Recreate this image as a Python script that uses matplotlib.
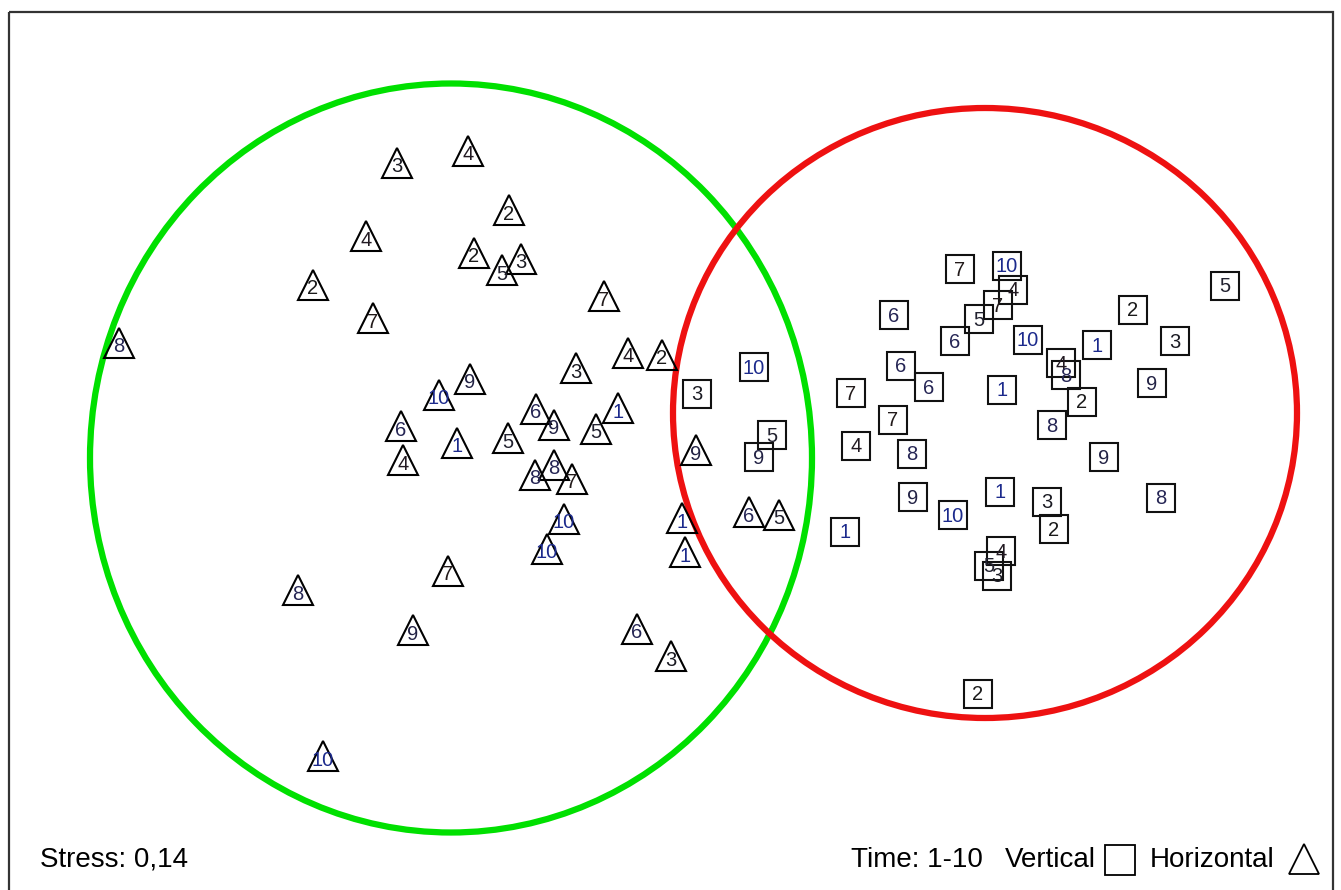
import matplotlib
matplotlib.use("Agg")
import matplotlib.pyplot as plt
from matplotlib.patches import Ellipse, Rectangle

plt.rcParams['font.family'] = ['Liberation Sans', 'DejaVu Sans']

# NMDS scores (pixel space of the original plot)
horiz_x = [119, 397, 468, 509, 366, 474, 502, 521, 313, 373,
           604, 628, 662, 576, 470, 439, 401, 403, 457, 508,
           536, 554, 596, 618, 535, 554, 572, 564, 547, 696,
           682, 685, 749, 779, 448, 298, 413, 637, 671, 323]
horiz_y = [343, 163, 151, 210, 236, 253, 270, 259, 285, 318,
           296, 353, 355, 368, 379, 395, 426, 460, 443, 438,
           409, 425, 429, 408, 475, 465, 479, 519, 549, 450,
           518, 552, 512, 515, 571, 590, 630, 629, 656, 756]
horiz_t = [8, 3, 4, 2, 4, 2, 5, 3, 2, 7,
           7, 4, 2, 3, 9, 10, 6, 4, 1, 5,
           6, 9, 5, 1, 8, 8, 7, 10, 10, 9,
           1, 1, 6, 5, 7, 8, 9, 6, 3, 10]

vert_x = [697, 754, 772, 759, 851, 856, 845, 894, 901, 929,
          893, 912, 913, 953, 960, 1007, 1013, 998, 979, 955,
          1028, 1002, 1061, 1066, 1082, 1052, 1097, 1133, 1175, 1152,
          1104, 1225, 1161, 1000, 1047, 1054, 1001, 989, 997, 978]
vert_y = [394, 367, 435, 457, 393, 446, 532, 315, 366, 387,
          420, 454, 497, 515, 269, 266, 290, 305, 319, 341,
          340, 390, 363, 375, 402, 425, 345, 310, 341, 383,
          457, 286, 498, 492, 502, 529, 551, 566, 576, 694]
vert_t = [3, 10, 5, 9, 7, 4, 1, 6, 6, 6,
          7, 8, 9, 10, 7, 10, 4, 7, 5, 6,
          10, 1, 4, 8, 2, 8, 1, 2, 3, 9,
          9, 5, 8, 1, 3, 2, 4, 5, 3, 2]

# label colour per time step
time_col = {1: '#1c2a8c', 2: '#1a1a1a', 3: '#1a1a22', 4: '#221a22',
            5: '#222230', 6: '#262655', 7: '#221a1a', 8: '#262655',
            9: '#222244', 10: '#1c2a8c'}

fig = plt.figure(figsize=(13.41, 8.90), dpi=100)
ax = fig.add_axes([0, 0, 1, 1])
ax.set_xlim(0, 1341)
ax.set_ylim(890, 0)
ax.axis('off')

ax.plot(horiz_x, horiz_y, linestyle='none', marker='^', ms=21.5,
        mfc='none', mec='black', mew=1.5)
ax.plot(vert_x, vert_y, linestyle='none', marker='s', ms=20,
        mfc='none', mec='#111111', mew=1.5)

for x, y, t in zip(horiz_x, horiz_y, horiz_t):
    ax.text(x, y + 4, str(t), ha='center', va='center', fontsize=14.5,
            color=time_col[t])
for x, y, t in zip(vert_x, vert_y, vert_t):
    ax.text(x, y + 1, str(t), ha='center', va='center', fontsize=14.5,
            color=time_col[t])

# group ellipses
ax.add_patch(Ellipse((451, 458), 722, 749, fill=False, ec='#00e000', lw=4.5))
ax.add_patch(Ellipse((985, 413), 624, 610, fill=False, ec='#ee1111', lw=4.5))

# frame
ax.add_patch(Rectangle((9.5, 11.5), 1324, 900, fill=False, ec='#333333',
                       lw=1.6, clip_on=False))

ax.text(40, 860, 'Stress: 0,14', fontsize=20, ha='left', va='center')
ax.text(851, 860, 'Time: 1-10', fontsize=20, ha='left', va='center')
ax.text(1005, 860, 'Vertical', fontsize=20, ha='left', va='center')
ax.text(1150, 860, 'Horizontal', fontsize=20, ha='left', va='center')
ax.plot([1120], [860], marker='s', ms=21, mfc='none', mec='black', mew=1.3)
ax.plot([1304], [859], marker='^', ms=21, mfc='none', mec='black', mew=1.3)

fig.savefig('out.png', dpi=100)
